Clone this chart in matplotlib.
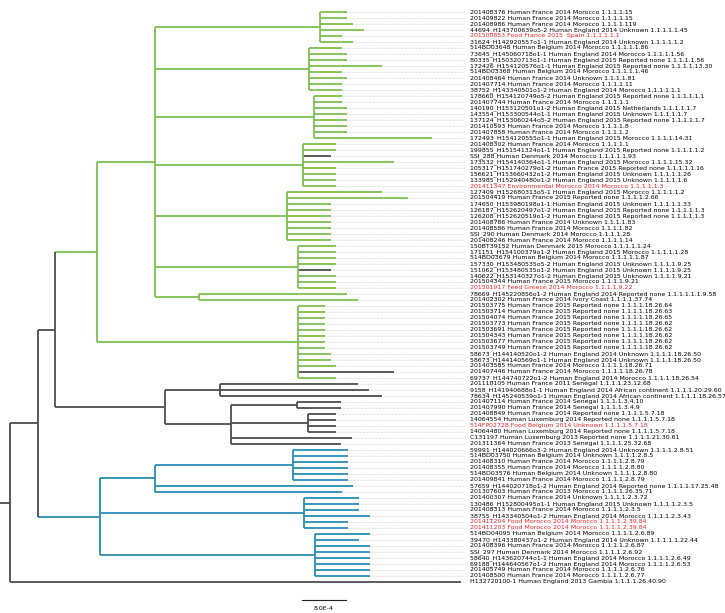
import matplotlib.pyplot as plt

# leaf labels, top to bottom
labels = [
    "201408376 Human France 2014 Morocco 1.1.1.1.15",
    "201409822 Human France 2014 Morocco 1.1.1.1.15",
    "201408986 Human France 2014 Morocco 1.1.1.1.119",
    "44694_H143700639o5-2 Human England 2014 Unknown 1.1.1.1.1.45",
    "201500853 Food France 2015  Spain 1.1.1.1.1.1",
    "31624_H142920557o1-1 Human England 2014 Unknown 1.1.1.1.1.2",
    "514BD03648 Human Belgium 2014 Morocco 1.1.1.1.1.86",
    "73645_H145060718o1-1 Human England 2014 Morocco 1.1.1.1.1.56",
    "80335_H150320713o1-1 Human England 2015 Reported none 1.1.1.1.1.56",
    "172426_H154120576o1-1 Human England 2015 Reported none 1.1.1.1.13.30",
    "514BD03368 Human Belgium 2014 Morocco 1.1.1.1.1.46",
    "201408464 Human France 2014 Unknown 1.1.1.1.81",
    "201407714 Human France 2014 Morocco 1.1.1.1.11",
    "38752_H143340501o1-2 Human England 2014 Morocco 1.1.1.1.1.1",
    "178660_H154120749o5-2 Human England 2015 Reported none 1.1.1.1.1.1",
    "201407744 Human France 2014 Morocco 1.1.1.1.1",
    "140190_H153120501o1-2 Human England 2015 Netherlands 1.1.1.1.1.7",
    "143554_H153300544o1-1 Human England 2015 Unknown 1.1.1.1.1.7",
    "137124_H153060244o5-2 Human England 2015 Reported none 1.1.1.1.1.7",
    "201410593 Human France 2014 Morocco 1.1.1.1.8",
    "201407858 Human France 2014 Morocco 1.1.1.1.2",
    "172493_H154120555o1-1 Human England 2015 Morocco 1.1.1.1.14.31",
    "201408302 Human France 2014 Morocco 1.1.1.1.1",
    "199855_H151541324o1-1 Human England 2015 Reported none 1.1.1.1.1.2",
    "SSI_288 Human Denmark 2014 Morocco 1.1.1.1.1.93",
    "173532_H154140364o1-1 Human England 2015 Morocco 1.1.1.1.15.32",
    "105317_H151740279o1-2 Human France 2015 Reported none 1.1.1.1.1.16",
    "156621_H153660432o1-2 Human England 2015 Unknown 1.1.1.1.1.26",
    "133985_H152940480o1-2 Human England 2015 Unknown 1.1.1.1.1.6",
    "201411347 Environmental Morocco 2014 Morocco 1.1.1.1.1.3",
    "127409_H152680313o5-1 Human England 2015 Morocco 1.1.1.1.1.2",
    "201504419 Human France 2015 Reported none 1.1.1.1.2.66",
    "174650_H153980198o1-1 Human England 2015 Unknown 1.1.1.1.1.33",
    "126187_H152620497o1-2 Human England 2015 Reported none 1.1.1.1.1.3",
    "126208_H152620519o1-2 Human England 2015 Reported none 1.1.1.1.1.3",
    "201408786 Human France 2014 Unknown 1.1.1.1.83",
    "201408586 Human France 2014 Morocco 1.1.1.1.82",
    "SSI_290 Human Denmark 2014 Morocco 1.1.1.1.28",
    "201408246 Human France 2014 Morocco 1.1.1.1.14",
    "150BT39152 Human Denmark 2015 Morocco 1.1.1.1.1.24",
    "171151_H154100379o1-2 Human England 2015 Morocco 1.1.1.1.1.28",
    "514BD03679 Human Belgium 2014 Morocco 1.1.1.1.1.87",
    "157330_H153480535o5-2 Human England 2015 Unknown 1.1.1.1.9.25",
    "151062_H153480535o1-2 Human England 2015 Unknown 1.1.1.1.9.25",
    "140622_H153140327o1-2 Human England 2015 Unknown 1.1.1.1.9.21",
    "201504344 Human France 2015 Morocco 1.1.1.1.9.21",
    "201501917 Feed Greece 2014 Morocco 1.1.1.1.9.22",
    "78669_H145220856o1-2 Human England 2014 Reported none 1.1.1.1.1.1.9.58",
    "201402302 Human France 2014 Ivory Coast 1.1.1.1.37.74",
    "201503775 Human France 2015 Reported none 1.1.1.1.18.26.64",
    "201503714 Human France 2015 Reported none 1.1.1.1.18.26.63",
    "201504074 Human France 2015 Reported none 1.1.1.1.18.26.65",
    "201503773 Human France 2015 Reported none 1.1.1.1.18.26.62",
    "201503691 Human France 2015 Reported none 1.1.1.1.18.26.62",
    "201504343 Human France 2015 Reported none 1.1.1.1.18.26.62",
    "201503677 Human France 2015 Reported none 1.1.1.1.18.26.62",
    "201503749 Human France 2015 Reported none 1.1.1.1.18.26.62",
    "58673_H144140520o1-2 Human England 2014 Unknown 1.1.1.1.18.26.50",
    "58673_H144140569o1-1 Human England 2014 Unknown 1.1.1.1.18.26.50",
    "201403585 Human France 2014 Morocco 1.1.1.1.18.26.71",
    "201407446 Human France 2014 Morocco 1.1.1.1.18.26.78",
    "69737_H144740722o1-2 Human England 2014 Morocco 1.1.1.1.18.26.54",
    "201110105 Human France 2011 Senegal 1.1.1.1.23.12.68",
    "9158_H141940688o1-1 Human England 2014 African continent 1.1.1.1.20.29.60",
    "78634_H145240539o1-1 Human England 2014 African continent 1.1.1.1.18.26.57",
    "201407114 Human France 2014 Senegal 1.1.1.1.3.4.10",
    "201407990 Human France 2014 Senegal 1.1.1.1.3.4.9",
    "201408849 Human France 2014 Reported none 1.1.1.1.5.7.18",
    "14064554 Human Luxemburg 2014 Reported none 1.1.1.1.5.7.18",
    "514FP02728 Food Belgium 2014 Unknown 1.1.1.1.5.7.18",
    "14064480 Human Luxemburg 2014 Reported none 1.1.1.1.5.7.18",
    "C131197 Human Luxemburg 2013 Reported none 1.1.1.1.21.30.61",
    "201311364 Human France 2013 Senegal 1.1.1.1.25.32.68",
    "59991_H144020666o3-2 Human England 2014 Unknown 1.1.1.1.2.8.51",
    "514BD03750 Human Belgium 2014 Unknown 1.1.1.1.2.8.5",
    "201408310 Human France 2014 Morocco 1.1.1.1.2.8.79",
    "201408355 Human France 2014 Morocco 1.1.1.1.2.8.80",
    "514BD03576 Human Belgium 2014 Unknown 1.1.1.1.2.8.80",
    "201409841 Human France 2014 Morocco 1.1.1.1.2.8.79",
    "57659_H144020718o1-2 Human England 2014 Reported none 1.1.1.1.17.25.48",
    "201307603 Human France 2013 Morocco 1.1.1.1.26.35.71",
    "201400307 Human France 2014 Unknown 1.1.1.1.2.3.72",
    "130486_H152800495o1-1 Human England 2015 Unknown 1.1.1.1.2.3.5",
    "201408313 Human France 2014 Morocco 1.1.1.1.2.3.5",
    "38755_H143340504o1-2 Human England 2014 Morocco 1.1.1.1.2.3.43",
    "201411204 Food Morocco 2014 Morocco 1.1.1.1.2.39.84",
    "201411203 Food Morocco 2014 Morocco 1.1.1.1.2.39.84",
    "514BD04095 Human Belgium 2014 Morocco 1.1.1.1.2.6.89",
    "39470_H143380437o1-2 Human England 2014 Unknown 1.1.1.1.1.22.44",
    "201408396 Human France 2014 Morocco 1.1.1.1.2.6.87",
    "SSI_297 Human Denmark 2014 Morocco 1.1.1.1.2.6.92",
    "58640_H143620744o1-1 Human England 2014 Morocco 1.1.1.1.2.6.49",
    "69188_H144640567o1-2 Human England 2014 Morocco 1.1.1.1.2.6.53",
    "201405749 Human France 2014 Morocco 1.1.1.1.2.6.76",
    "201408500 Human France 2014 Morocco 1.1.1.1.2.6.77",
    "H132720100-1 Human England 2013 Gambia 1.1.1.1.26.40.90",
]
# non-human isolates (red labels), 1-based leaf numbers
red_leaves = [5, 30, 47, 70, 86, 87]
# tip branches drawn grey inside the green clade
grey_tips = [25, 44, 61]

# subtrees in newick, leaf names are leaf numbers, lengths in units of 1e-4
green_tree = ("(((1:5,2:5,3:6,4:8,5:4,6:6):30,(7:6,8:7,9:7,10:13.4,11:6,12:7,13:6,14:6):28,"
              "(15:5,16:5,17:6,18:6,19:6,20:6,21:6,22:21.5):29,(23:6,24:6,25:5,26:16.6,27:6,28:6,29:6,30:6):27,"
              "(31:17.4,32:22,33:8,34:8,35:8,36:8,37:8,38:8,39:8):24,(40:7,41:7,42:7,43:7,44:6,45:7,46:7,47:7):26,"
              "(48:27,49:29):8):10.5,"
              "((50:5,51:5,52:5,53:5,54:5,55:5,56:5,57:5,58:6,59:6,60:7,61:17.5,62:7):25):11.5)")
dark_tree = "((63:25,64:27,65:29.4):10,((66:8,67:8):12,(68:5,69:5,70:5,71:5):14,72:22,73:20):12)"
blue_tree = ("(((74:10,75:10,76:10,77:10,78:10,79:10):25,80:36,81:34):10,"
             "((82:10,83:10,84:10,85:12,86:8,87:8):25):12,"
             "((88:10,89:8,90:10,91:10,92:10,93:10,94:10,95:10):25):14)")
outgroup = "96:82"

green_len, dark_len, blue_len = 7.6, 20, 11.3
inner_len, main_len = 3.1, 5.1

green = "#7cc04f"
blue = "#2a8fb0"
dark = "#4d4d4d"


def parse(s):
    pos = 0

    def node():
        nonlocal pos
        kids = []
        name = ""
        if s[pos] == "(":
            pos += 1
            while True:
                kids.append(node())
                if s[pos] == ",":
                    pos += 1
                else:
                    pos += 1  # ')'
                    break
        while pos < len(s) and s[pos] not in ":,)":
            name += s[pos]
            pos += 1
        length = 0.0
        if pos < len(s) and s[pos] == ":":
            pos += 1
            num = ""
            while pos < len(s) and s[pos] not in ",)":
                num += s[pos]
                pos += 1
            length = float(num)
        return {"kids": kids, "name": name, "len": length, "color": None}

    return node()


g = parse(green_tree + ":%s" % green_len)
g["color"] = green
d = parse(dark_tree + ":%s" % dark_len)
b = parse(blue_tree + ":%s" % blue_len)
b["color"] = blue
inner = {"kids": [g, d], "name": "", "len": inner_len, "color": None}
main = {"kids": [inner, b], "name": "", "len": main_len, "color": None}
root = {"kids": [main, parse(outgroup)], "name": "", "len": 0.0, "color": None}

fig = plt.figure(figsize=(7.25, 6.13), dpi=100)
ax = fig.add_axes([0, 0, 1, 1])
ax.axis("off")

label_x = 83.0
tips = []


def draw(n, x0, col):
    col = n["color"] or col
    x = x0 + n["len"]
    if not n["kids"]:
        y = int(n["name"])
        tips.append((x, y))
        if y in grey_tips:
            col = dark
    else:
        ys = [draw(k, x, col) for k in n["kids"]]
        y = (ys[0] + ys[-1]) / 2
        ax.plot([x, x], [ys[0], ys[-1]], color=col, lw=1.3, solid_capstyle="butt")
    ax.plot([x0, x], [y, y], color=col, lw=1.3, solid_capstyle="butt")
    return y


ry = draw(root, 0, dark)
ax.plot([-1.8, 0], [ry, ry], color=dark, lw=1.3)

for x, y in tips:
    if x < label_x - 0.6:
        ax.plot([x, label_x - 0.5], [y, y], color="#c8c8c8", lw=0.5, ls=(0, (1, 1)))
    ax.text(label_x + 0.6, y, labels[y - 1], fontsize=4.5, va="center", ha="left",
            family="DejaVu Sans",
            color="#e8252a" if y in red_leaves else "#000000")

# scale bar
ax.plot([53, 61], [99.0, 99.0], color="#222222", lw=0.8)
ax.text(57, 100.4, "8.0E-4", fontsize=4.5, ha="center", va="center")

ax.set_xlim(-10 / 5.5, 715 / 5.5)
ax.set_ylim(1 + (613 - 12) / 6.0, 1 - 12 / 6.0)
fig.savefig("out.png", dpi=100)
